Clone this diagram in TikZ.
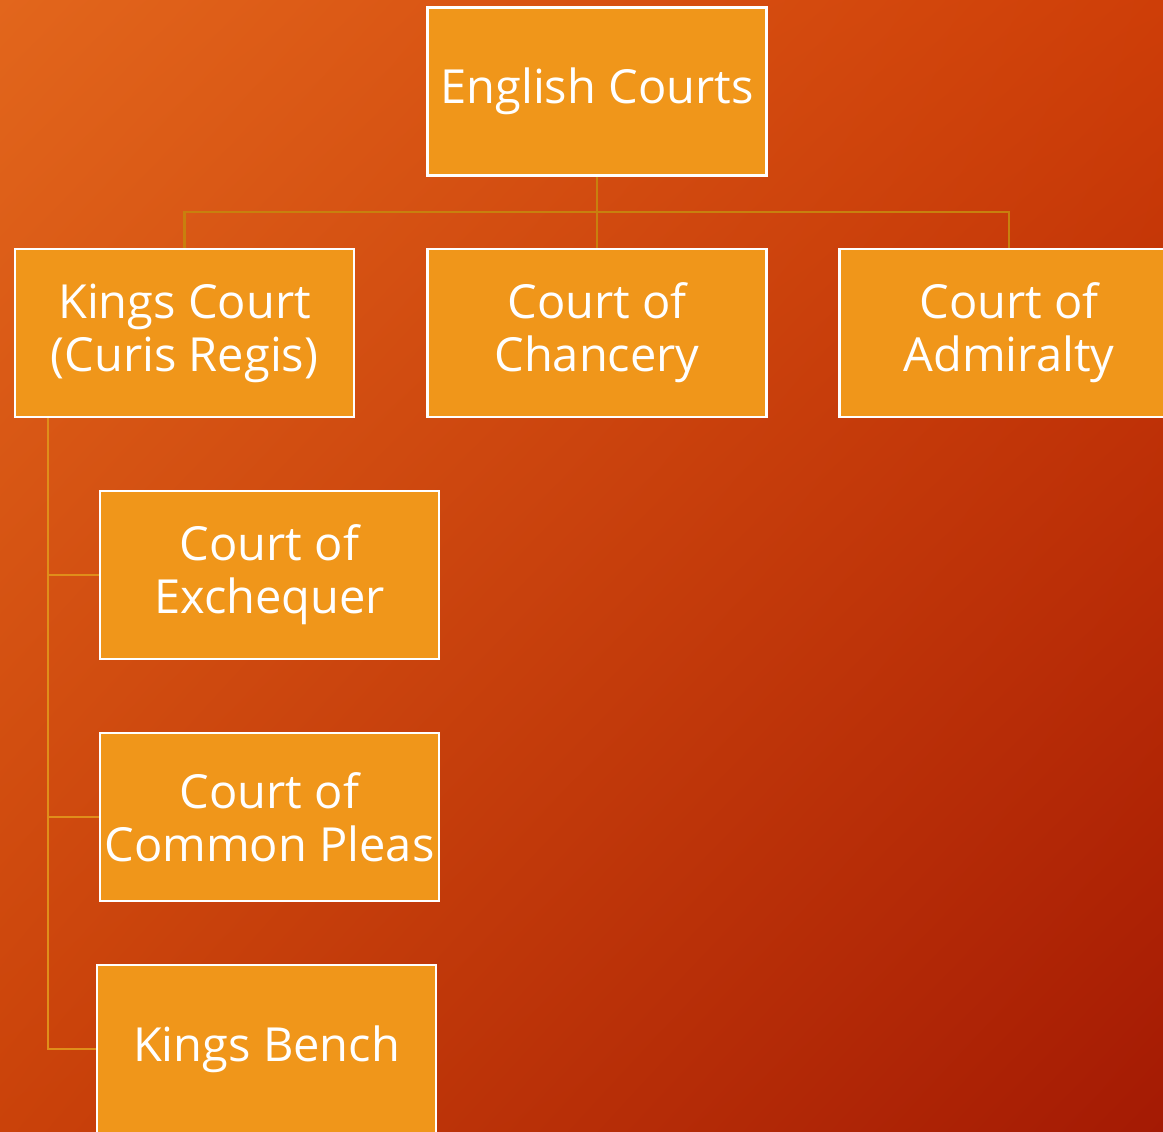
\documentclass[tikz,border=0pt]{standalone}
\usepackage{fontspec}
\usetikzlibrary{shadings}
\setmainfont{Open Sans}
\definecolor{bgUL}{HTML}{E2661C}
\definecolor{bgUR}{HTML}{CE3E08}
\definecolor{bgLL}{HTML}{CA420A}
\definecolor{bgLR}{HTML}{A41A04}
\definecolor{boxfill}{HTML}{F0961A}
\definecolor{linkc}{HTML}{C8800E}
\definecolor{linkd}{HTML}{E08E1A}
\begin{document}
\begin{tikzpicture}[x=1pt,y=-1pt,
  court/.style={draw=white,line width=2.6pt,fill=boxfill,minimum width=339pt,minimum height=168pt,inner sep=0pt,
    text=white,font=\fontsize{47}{53}\selectfont,align=center},
  link/.style={draw=linkc,line width=2.4pt},
  sublink/.style={draw=linkd,line width=2.4pt}]
\useasboundingbox (0,0) rectangle (1163,1132);
\clip (0,0) rectangle (1163,1132);
\shade[upper left=bgUL,upper right=bgUR,lower left=bgLL,lower right=bgLR] (0,0) rectangle (1163,1132);
\node[court] (eng) at (597,91.5) {English Courts};
\node[court] (kc) at (184.5,333) {Kings Court\\(Curis Regis)};
\node[court] (ch) at (597,333) {Court of\\Chancery};
\node[court] (ad) at (1009,333) {Court of\\Admiralty};
\node[court] (ex) at (269.5,575) {Court of\\Exchequer};
\node[court] (cp) at (269.5,817) {Court of\\Common Pleas};
\node[court] (kb) at (266.5,1049) {Kings Bench};
\coordinate (hub) at (597,212);
\coordinate (rail) at (48,418);
\draw[link] (eng.south) -- (hub);
\draw[link] (kc.north) |- (hub) -| (ad.north);
\draw[link] (hub) -- (ch.north);
\draw[sublink] (rail) |- (ex.west);
\draw[sublink] (rail) |- (cp.west);
\draw[sublink] (rail) |- (kb.west);
\end{tikzpicture}
\end{document}
